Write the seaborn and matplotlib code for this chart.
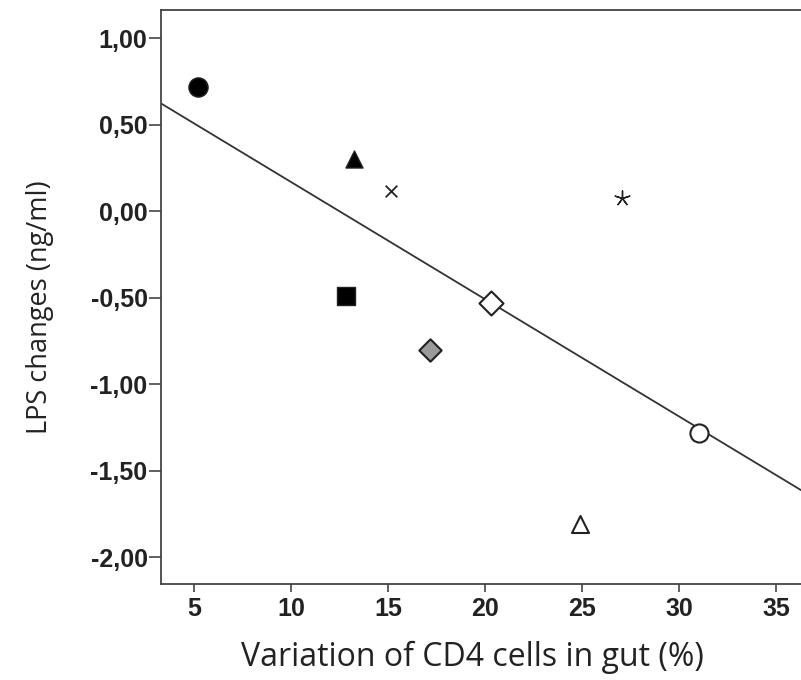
import numpy as np
import pandas as pd
import seaborn as sns
import matplotlib.pyplot as plt
import matplotlib.ticker as mtick

# --- dados ---
pacientes = ["P1", "P2", "P3", "P4", "P5", "P6", "P7", "P8", "P9"]
cd4_variacao = [5.22, 13.26, 15.17, 27.03, 12.83, 20.32, 17.18, 31.02, 24.91]
lps_variacao = [0.72, 0.30, 0.12, 0.08, -0.49, -0.53, -0.80, -1.28, -1.81]
y_ticks = [-2.0, -1.5, -1.0, -0.5, 0.0, 0.5, 1.0]
x_ticks = [5, 10, 15, 20, 25, 30, 35]

# --- estilo de cada ponto ---
marcadores = ["o", "^", "x", (5, 2, 0), "s", "D", "D", "o", "^"]
preenchimento = ["black", "black", "#222222", "#222222", "black", "white", "#9a9a9a", "white", "white"]
tamanhos = [190, 150, 70, 120, 170, 150, 130, 170, 150]
espessuras = [1.0, 1.0, 1.3, 1.0, 1.0, 1.5, 1.5, 1.5, 1.5]

df = pd.DataFrame({"Paciente": pacientes, "CD4": cd4_variacao, "LPS": lps_variacao})

sns.set_style("ticks")
plt.rcParams["font.family"] = ["Liberation Sans", "DejaVu Sans"]

fig = plt.figure(figsize=(8.01, 6.80), dpi=100)
ax = fig.add_axes([0.2016, 0.1407, 0.80, 0.8446])
ax.set_xlim(3.32, 36.34)
ax.set_ylim(-2.156, 1.164)

# linha de regressão (ajustada aos dados, estendida até as bordas)
sns.regplot(data=df, x="CD4", y="LPS", scatter=False, ci=None, truncate=False,
            line_kws={"color": "#333333", "lw": 1.3}, ax=ax)

for i in range(len(df)):
    m = marcadores[i]
    linha = m in ("x",) or isinstance(m, tuple)
    sns.scatterplot(x=[df.CD4[i]], y=[df.LPS[i]], marker=m, s=tamanhos[i],
                    color=preenchimento[i] if not linha else "#222222",
                    edgecolor="#222222" if not linha else None,
                    linewidth=espessuras[i], ax=ax, zorder=3, legend=False)

ax.set_xticks(x_ticks)
ax.set_yticks(y_ticks)
ax.yaxis.set_major_formatter(mtick.FuncFormatter(lambda v, _: f"{v:.2f}".replace(".", ",")))
ax.tick_params(axis="y", length=9, width=1.2, color="#444444", labelsize=18, pad=1)
ax.tick_params(axis="x", length=6, width=1.2, color="#444444", labelsize=18, pad=3)
for lbl in ax.get_xticklabels() + ax.get_yticklabels():
    lbl.set_fontweight("bold")
    lbl.set_color("#222222")

for lado in ["left", "bottom", "top"]:
    ax.spines[lado].set_color("#444444")
    ax.spines[lado].set_linewidth(1.3)
ax.spines["right"].set_visible(False)

ax.set_xlabel("Variation of CD4 cells in gut (%)", fontsize=23, family="Open Sans",
              va="center", color="#222222")
ax.set_ylabel("LPS changes (ng/ml)", fontsize=19.5, family="Open Sans",
              va="center", color="#222222")
ax.xaxis.set_label_coords(0.486, -0.128)
ax.yaxis.set_label_coords(-0.19, 0.483)

fig.savefig("out.png", dpi=100)
